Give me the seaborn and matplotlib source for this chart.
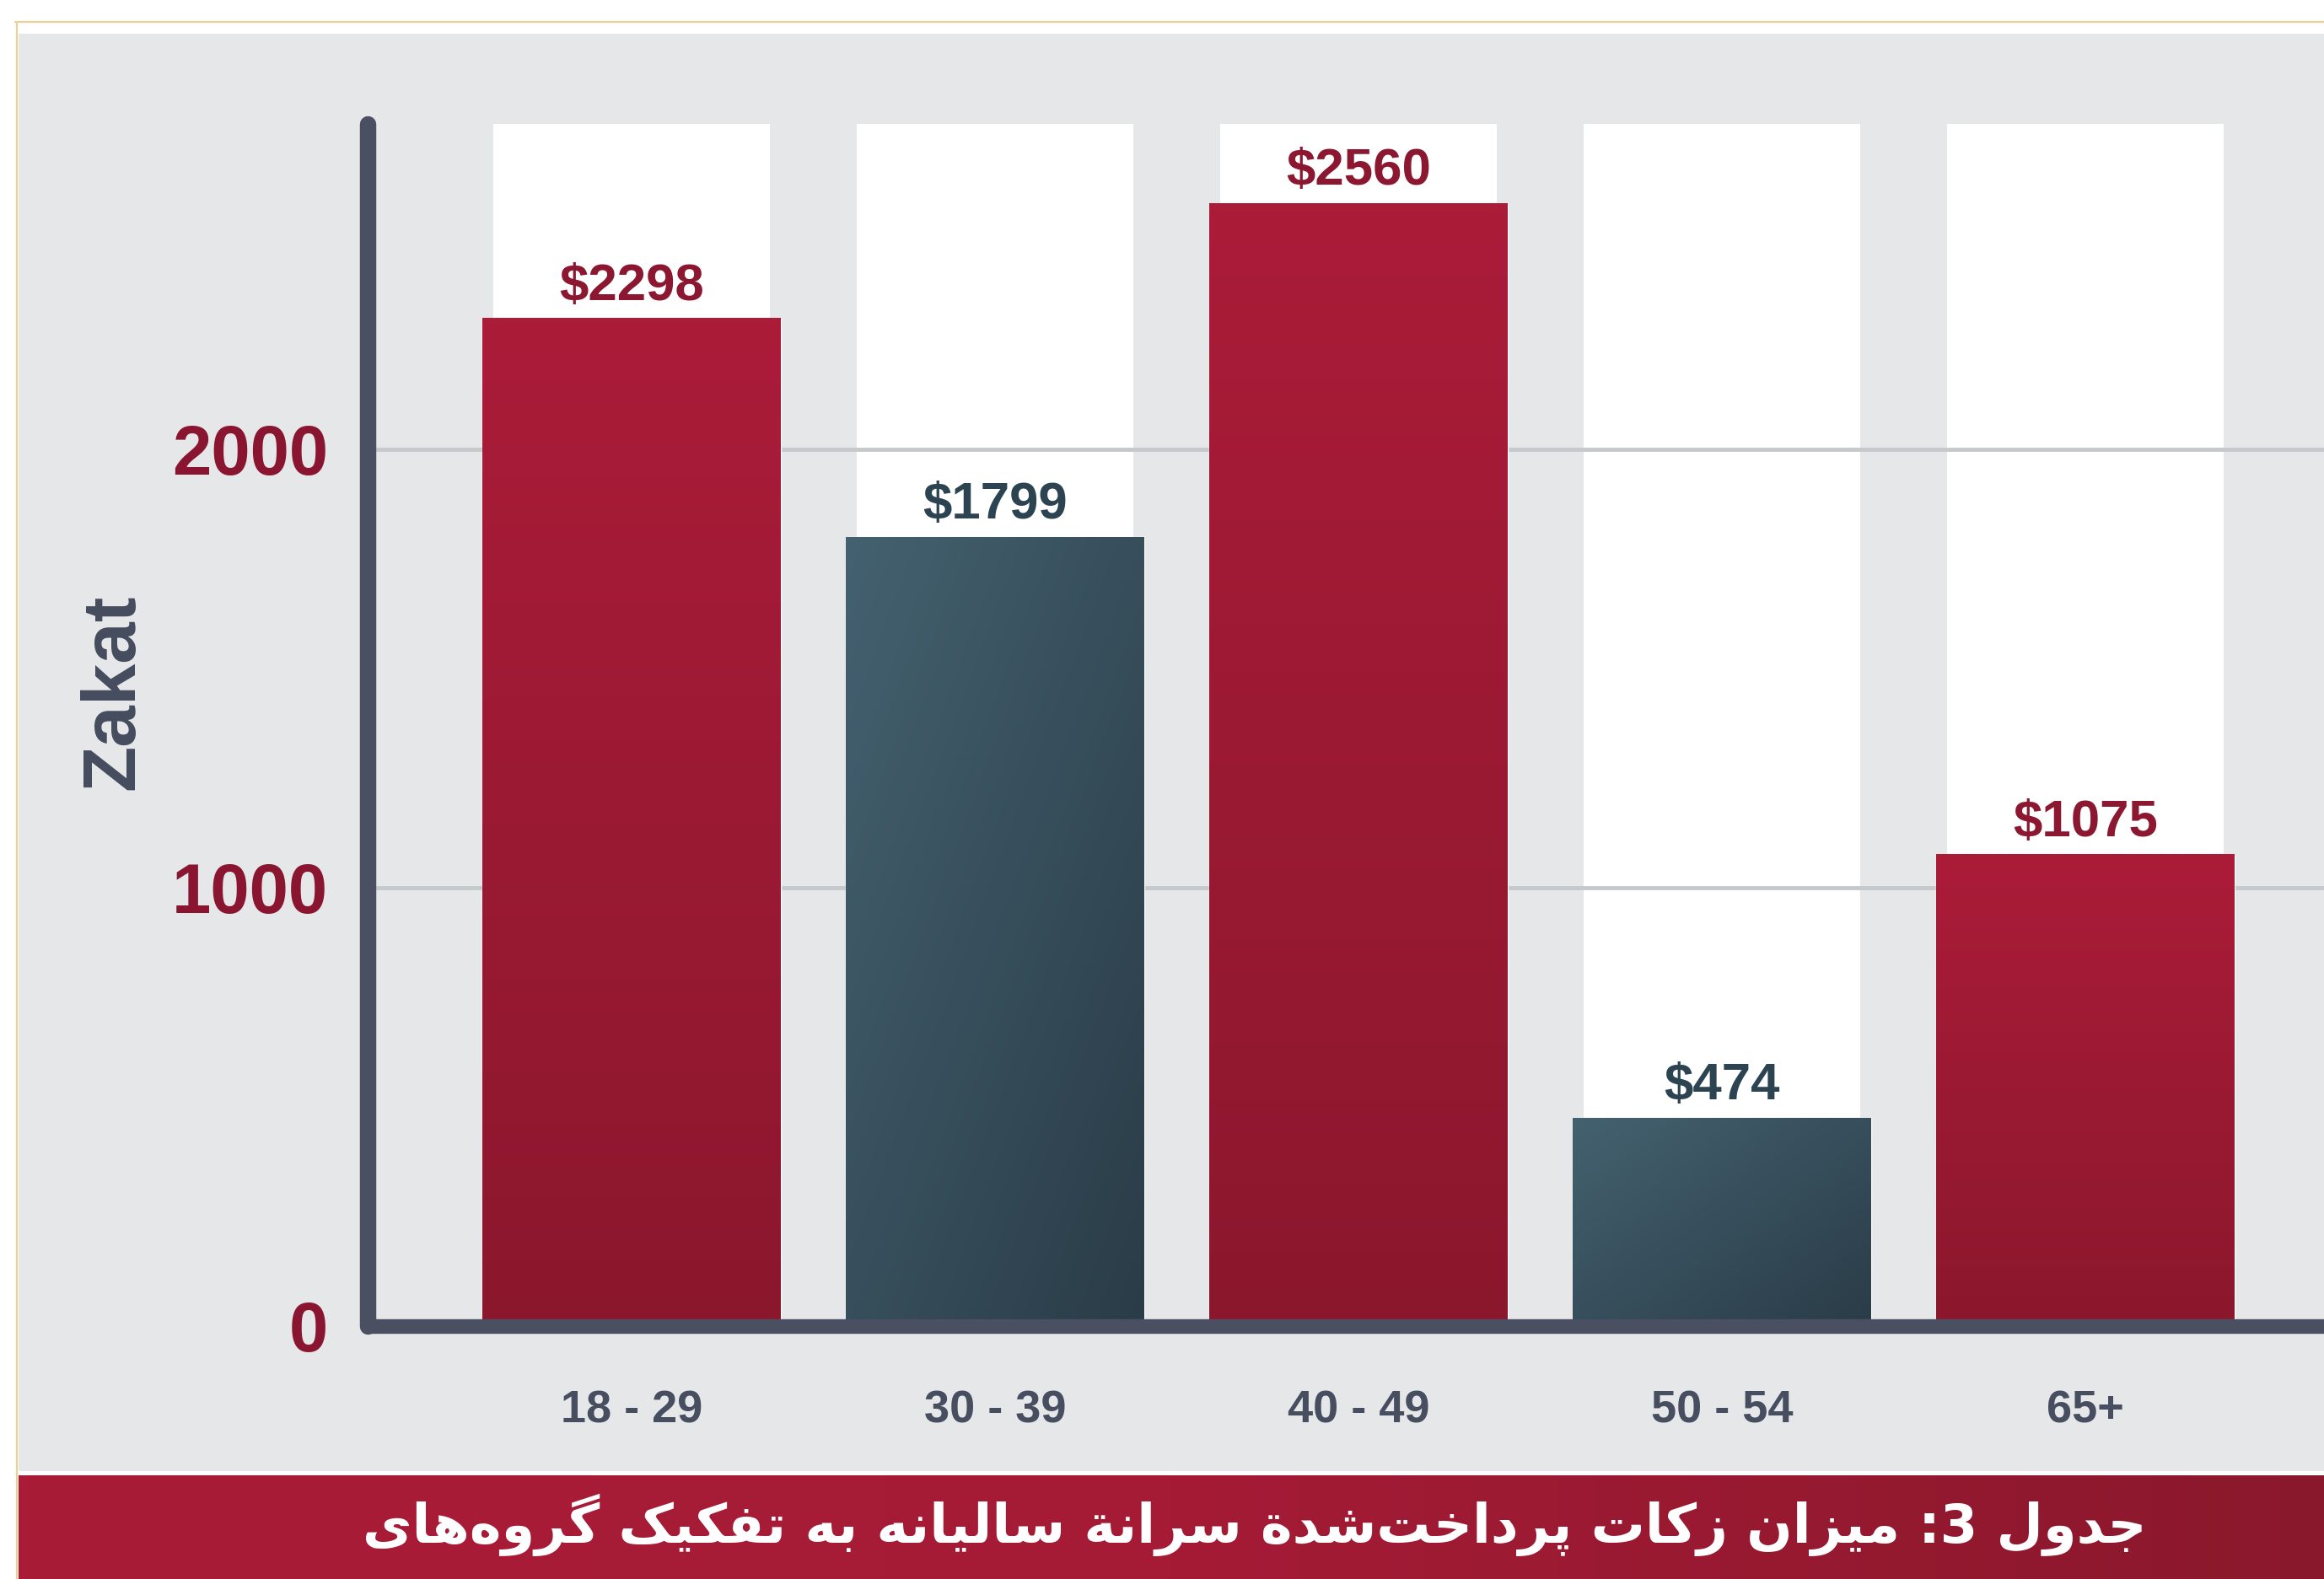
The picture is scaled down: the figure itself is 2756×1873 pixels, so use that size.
import numpy as np
import pandas as pd
import matplotlib
matplotlib.use('Agg')
import matplotlib.pyplot as plt
import seaborn as sns
from matplotlib.patches import Rectangle
from matplotlib.lines import Line2D
from matplotlib.colors import LinearSegmentedColormap

# Data
age_groups = ['18 - 29', '30 - 39', '40 - 49', '50 - 54', '65+']
zakat = [2298, 1799, 2560, 474, 1075]
bar_tone = ['red', 'blue', 'red', 'blue', 'red']
y_ticks = [0, 1000, 2000]
y_label = 'Zakat'
title_fa = 'جدول 3: میزان زکات پرداخت\u200cشدة سرانة سالیانه به تفکیک گروه\u200cهای'

df = pd.DataFrame({'age': age_groups, 'zakat': zakat, 'tone': bar_tone})

# Simple Persian shaping (matplotlib has no bidi / contextual forms)
DUAL = {
    'ب': (0xFE8F, 0xFE90, 0xFE91, 0xFE92), 'ت': (0xFE95, 0xFE96, 0xFE97, 0xFE98),
    'ج': (0xFE9D, 0xFE9E, 0xFE9F, 0xFEA0), 'خ': (0xFEA5, 0xFEA6, 0xFEA7, 0xFEA8),
    'س': (0xFEB1, 0xFEB2, 0xFEB3, 0xFEB4), 'ش': (0xFEB5, 0xFEB6, 0xFEB7, 0xFEB8),
    'ف': (0xFED1, 0xFED2, 0xFED3, 0xFED4), 'ل': (0xFEDD, 0xFEDE, 0xFEDF, 0xFEE0),
    'م': (0xFEE1, 0xFEE2, 0xFEE3, 0xFEE4), 'ن': (0xFEE5, 0xFEE6, 0xFEE7, 0xFEE8),
    'ه': (0xFEE9, 0xFEEA, 0xFEEB, 0xFEEC), 'ی': (0xFBFC, 0xFBFD, 0xFBFE, 0xFBFF),
    'پ': (0xFB56, 0xFB57, 0xFB58, 0xFB59), 'ک': (0xFB8E, 0xFB8F, 0xFB90, 0xFB91),
    'گ': (0xFB92, 0xFB93, 0xFB94, 0xFB95),
}
RIGHT = {
    'ا': (0xFE8D, 0xFE8E), 'د': (0xFEA9, 0xFEAA), 'ر': (0xFEAD, 0xFEAE),
    'ز': (0xFEAF, 0xFEB0), 'و': (0xFEED, 0xFEEE), 'ة': (0xFE93, 0xFE94),
}


def shape_fa(s):
    out = []
    for i, ch in enumerate(s):
        if ch == '\u200c':
            continue
        prev = s[i - 1] if i > 0 else ''
        nxt = s[i + 1] if i + 1 < len(s) else ''
        join_prev = prev in DUAL and (ch in DUAL or ch in RIGHT)
        if ch in DUAL:
            join_next = nxt in DUAL or nxt in RIGHT
            f = DUAL[ch]
            if join_prev and join_next:
                out.append(chr(f[3]))
            elif join_prev:
                out.append(chr(f[1]))
            elif join_next:
                out.append(chr(f[2]))
            else:
                out.append(chr(f[0]))
        elif ch in RIGHT:
            out.append(chr(RIGHT[ch][1] if join_prev else RIGHT[ch][0]))
        else:
            out.append(ch)
    return ''.join(out)[::-1]


# Colours
RED = '#a11b36'
BLUE = '#37515f'
AXIS = '#4a5061'
GRID = '#c6c9cc'
TICK_RED = '#8a1531'

sns.set_theme(style='white')
plt.rcParams['font.family'] = ['Liberation Sans', 'DejaVu Sans']

W, H = 2756, 1873
fig = plt.figure(figsize=(W / 100, H / 100), dpi=100)
fig.patch.set_facecolor('white')


def fx(px):
    return px / W


def fy(py):
    return 1 - py / H


# grey panel + thin orange frame
fig.add_artist(Rectangle((fx(22), fy(1745)), 1 - fx(22), fy(40) - fy(1745),
                         transform=fig.transFigure, facecolor='#e6e7e9',
                         edgecolor='none', zorder=-10))
fig.add_artist(Line2D([fx(18), 1], [fy(26), fy(26)], transform=fig.transFigure,
                      color='#efcf96', lw=1.6, zorder=-5))
fig.add_artist(Line2D([fx(20), fx(20)], [fy(26), 0], transform=fig.transFigure,
                      color='#efcf96', lw=1.6, zorder=-5))

# main axes
ax = fig.add_axes([fx(436), fy(1573), 1 - fx(436), fy(147) - fy(1573)])
ax.patch.set_visible(False)

sns.barplot(data=df, x='age', y='zakat', hue='tone', order=age_groups,
            palette={'red': RED, 'blue': BLUE}, dodge=False, width=0.82,
            saturation=1, legend=False, ax=ax, zorder=2)
bars = sorted(ax.patches, key=lambda p: p.get_x())

# gradient fill on the bars
red_cmap = LinearSegmentedColormap.from_list('redg', ['#8b172d', '#ab1c39'])
blue_cmap = LinearSegmentedColormap.from_list('blueg', ['#2a3c48', '#44616f'])
yy, xx = np.mgrid[0:1:200j, 0:1:60j]
for patch, tone in zip(bars, bar_tone):
    x0, w, h = patch.get_x(), patch.get_width(), patch.get_height()
    if tone == 'red':
        grad, cmap = yy, red_cmap
    else:
        grad, cmap = (yy + (1 - xx)) / 2, blue_cmap
    ax.imshow(grad, extent=[x0, x0 + w, 0, h], origin='lower', aspect='auto',
              cmap=cmap, zorder=2.5, interpolation='bilinear')

# white background tracks behind each column
for i in range(len(age_groups)):
    ax.axvspan(i - 0.38, i + 0.38, color='white', zorder=0, lw=0)

ymax = 2742
ax.set_xlim(-0.726, len(age_groups) - 1 + 0.657)
ax.set_ylim(0, ymax)

# value labels
for i, (v, tone) in enumerate(zip(zakat, bar_tone)):
    ax.annotate(f'${v}', (i, v), xytext=(0, 16), textcoords='offset points',
                ha='center', va='baseline', fontsize=44.5, fontweight='bold',
                color='#8b1731' if tone == 'red' else '#2c4352', zorder=5)

# grid
for t in y_ticks[1:]:
    ax.axhline(t, color=GRID, lw=3.5, zorder=1)

# axes styling
ax.set_yticks(y_ticks)
ax.set_yticklabels([str(t) for t in y_ticks], fontsize=60, fontweight='bold',
                   color=TICK_RED)
ax.tick_params(axis='y', length=0, pad=34)
ax.tick_params(axis='x', length=0, pad=54)
for lab in ax.get_xticklabels():
    lab.set_fontsize(39)
    lab.set_fontweight('bold')
    lab.set_color('#474e5f')
ax.set_xlabel('')
ax.set_ylabel(y_label, fontsize=64, fontweight='bold', color='#454c5e', va='center')
ax.yaxis.set_label_coords((135 - 436) / (W - 436), (1573 - 821) / (1573 - 147))

sns.despine(ax=ax, top=True, right=True)
for side, lw in (('left', 14), ('bottom', 12.5)):
    sp = ax.spines[side]
    sp.set_color(AXIS)
    sp.set_linewidth(lw)
    sp.set_capstyle('round')
    sp.set_zorder(4)

# bottom title banner
ax_b = fig.add_axes([fx(22), 0, 1 - fx(22), fy(1750)])
banner_cmap = LinearSegmentedColormap.from_list('ban', ['#a91c38', '#a51b36', '#8a182c'])
ax_b.imshow(np.linspace(0, 1, 256)[None, :], extent=[0, 1, 0, 1], aspect='auto',
            cmap=banner_cmap)
ax_b.set_xlim(0, 1)
ax_b.set_ylim(0, 1)
ax_b.axis('off')
ax_b.text((1488 - 22) / (W - 22), (H - 1830) / (H - 1750), shape_fa(title_fa),
          ha='center', va='baseline', fontsize=46, fontweight='bold',
          color='white', family=['DejaVu Sans'])

fig.savefig('out.png', dpi=100, facecolor=fig.get_facecolor())
